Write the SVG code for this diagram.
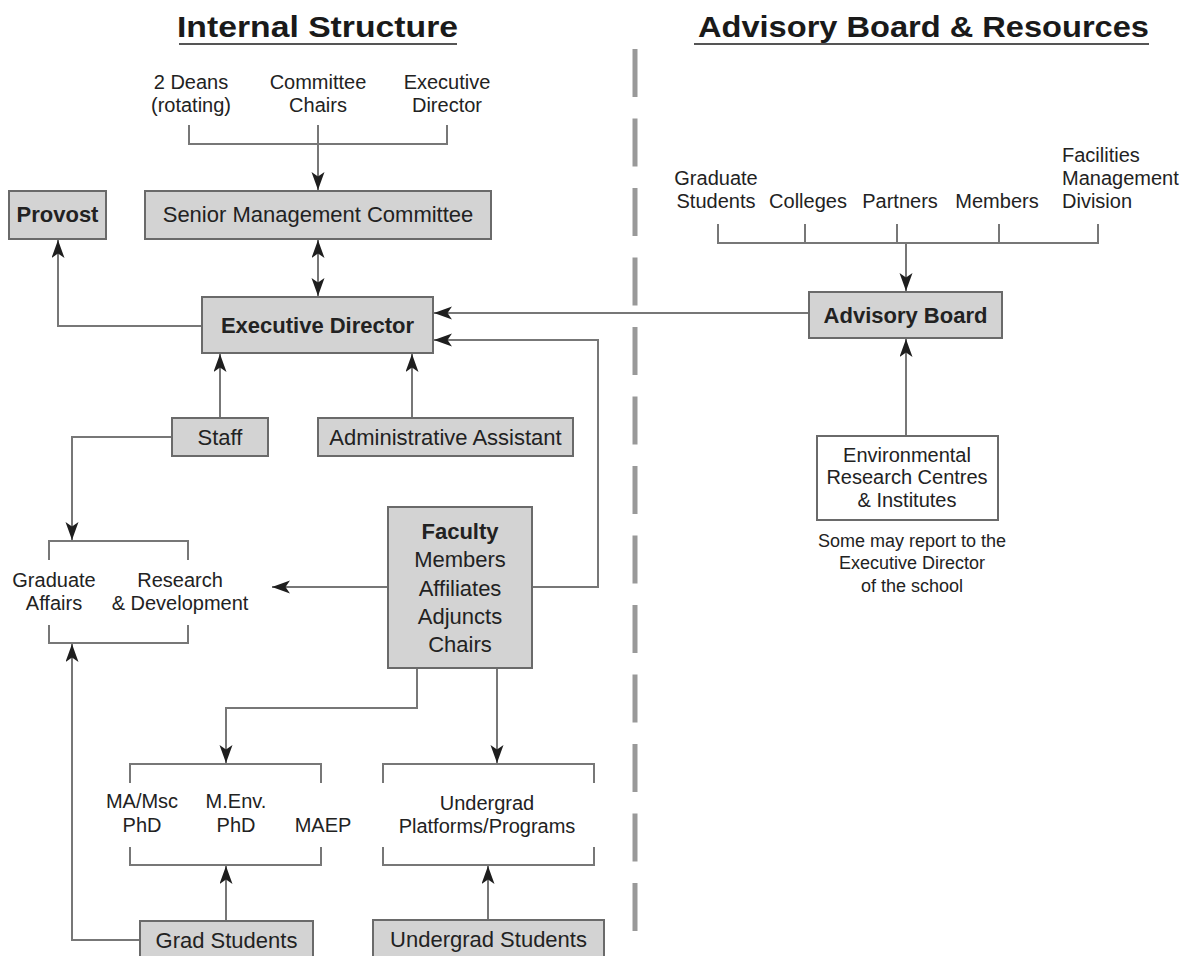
<svg xmlns="http://www.w3.org/2000/svg" width="1182" height="956" viewBox="0 0 1182 956">
<defs>
<marker id="ah" markerUnits="userSpaceOnUse" markerWidth="20" markerHeight="14" refX="18" refY="6.5" orient="auto-start-reverse">
<path d="M0,0 L18,6.5 L0,13 L4.5,6.5 Z" fill="#1e1e1e"/>
</marker>
<style>
.t{font-family:"Liberation Sans",Arial,sans-serif;fill:#222;text-anchor:middle}
.title{font-family:"Liberation Sans",Arial,sans-serif;font-weight:bold;font-size:29px;fill:#1a1a1a;text-anchor:middle}
.box{fill:#d3d3d3;stroke:#6a6a6a;stroke-width:2}
.wbox{fill:#fff;stroke:#6a6a6a;stroke-width:2}
.lbl{font-size:20px}
.bt{font-size:22px}
.b{font-weight:bold}
.note{font-size:18px}
.c{fill:none;stroke:#777;stroke-width:2}
.a{marker-end:url(#ah)}
</style>
</defs>
<rect width="1182" height="956" fill="#fff"/>

<g id="titles">
<text class="title" x="317.5" y="37" textLength="281" lengthAdjust="spacingAndGlyphs">Internal Structure</text>
<line x1="179" y1="44" x2="457" y2="44" stroke="#555" stroke-width="2"/>
<text class="title" x="923.5" y="37" textLength="451" lengthAdjust="spacingAndGlyphs">Advisory Board &amp; Resources</text>
<line x1="694" y1="44" x2="1149" y2="44" stroke="#555" stroke-width="2"/>
</g>

<g id="divider">
<line x1="635" y1="49" x2="635" y2="931" stroke="#999" stroke-width="5" stroke-dasharray="48 21.5"/>
</g>

<g id="connectors">
<path class="c" d="M189,125 V144 H447 V125"/>
<path class="c a" d="M318,125 V190"/>
<path class="c a" d="M318,240 V296" style="marker-start:url(#ah)"/>
<path class="c a" d="M202,326 H58 V240"/>
<path class="c a" d="M809,313 H434"/>
<path class="c a" d="M532,587 H598 V340 H434"/>
<path class="c a" d="M220,418 V354"/>
<path class="c a" d="M412,418 V354"/>
<path class="c a" d="M172,437 H72 V540"/>
<path class="c" d="M49,560 V541 H188 V560"/>
<path class="c a" d="M388,587 H272"/>
<path class="c" d="M49,625 V643 H188 V625"/>
<path class="c a" d="M140,940 H72 V644"/>
<path class="c a" d="M417,668 V708 H226 V763"/>
<path class="c a" d="M497,668 V763"/>
<path class="c" d="M130,783 V764 H321 V783"/>
<path class="c" d="M130,847 V865 H321 V847"/>
<path class="c" d="M383,783 V764 H594 V783"/>
<path class="c" d="M383,847 V865 H594 V847"/>
<path class="c a" d="M226,921 V866"/>
<path class="c a" d="M488,920 V866"/>
<path class="c" d="M718,224 V243 H1098 V224 M805,224 V243 M897,224 V243 M999,224 V243"/>
<path class="c a" d="M906,243 V291"/>
<path class="c a" d="M906,436 V339"/>
</g>

<g id="smc-members">
<text class="t lbl" x="191" y="89">2 Deans</text>
<text class="t lbl" x="191" y="112">(rotating)</text>
<text class="t lbl" x="318" y="89">Committee</text>
<text class="t lbl" x="318" y="112">Chairs</text>
<text class="t lbl" x="447" y="89">Executive</text>
<text class="t lbl" x="447" y="112">Director</text>
</g>

<g id="provost">
<rect class="box" x="9" y="191" width="97" height="48"/>
<text class="t bt b" x="57.5" y="222">Provost</text>
</g>

<g id="smc">
<rect class="box" x="145" y="191" width="346" height="48"/>
<text class="t bt" x="318" y="222">Senior Management Committee</text>
</g>

<g id="exec-director">
<rect class="box" x="202" y="297" width="231" height="56"/>
<text class="t bt b" x="317.5" y="333">Executive Director</text>
</g>

<g id="staff">
<rect class="box" x="172" y="418" width="96" height="38"/>
<text class="t bt" x="220" y="445">Staff</text>
</g>

<g id="admin-assistant">
<rect class="box" x="318" y="418" width="255" height="38"/>
<text class="t bt" x="445.5" y="445">Administrative Assistant</text>
</g>

<g id="faculty">
<rect class="box" x="388" y="507" width="144" height="161"/>
<text class="t bt b" x="460" y="539">Faculty</text>
<text class="t bt" x="460" y="567">Members</text>
<text class="t bt" x="460" y="596">Affiliates</text>
<text class="t bt" x="460" y="624">Adjuncts</text>
<text class="t bt" x="460" y="652">Chairs</text>
</g>

<g id="grad-affairs-rd">
<text class="t lbl" x="54" y="587">Graduate</text>
<text class="t lbl" x="54" y="610">Affairs</text>
<text class="t lbl" x="180" y="587">Research</text>
<text class="t lbl" x="180" y="610">&amp; Development</text>
</g>

<g id="grad-programs">
<text class="t lbl" x="142" y="808">MA/Msc</text>
<text class="t lbl" x="142" y="832">PhD</text>
<text class="t lbl" x="236" y="808">M.Env.</text>
<text class="t lbl" x="236" y="832">PhD</text>
<text class="t lbl" x="323" y="832">MAEP</text>
</g>

<g id="undergrad-programs">
<text class="t lbl" x="487" y="810">Undergrad</text>
<text class="t lbl" x="487" y="833">Platforms/Programs</text>
</g>

<g id="grad-students">
<rect class="box" x="140" y="921" width="173" height="50"/>
<text class="t bt" x="226.5" y="948">Grad Students</text>
</g>

<g id="undergrad-students">
<rect class="box" x="373" y="920" width="231" height="50"/>
<text class="t bt" x="488.5" y="947">Undergrad Students</text>
</g>

<g id="board-members">
<text class="t lbl" x="716" y="185">Graduate</text>
<text class="t lbl" x="716" y="208">Students</text>
<text class="t lbl" x="808" y="208">Colleges</text>
<text class="t lbl" x="900" y="208">Partners</text>
<text class="t lbl" x="997" y="208">Members</text>
<text class="t lbl" x="1062" y="162" style="text-anchor:start">Facilities</text>
<text class="t lbl" x="1062" y="185" style="text-anchor:start">Management</text>
<text class="t lbl" x="1062" y="208" style="text-anchor:start">Division</text>
</g>

<g id="advisory-board">
<rect class="box" x="809" y="292" width="193" height="46"/>
<text class="t bt b" x="905.5" y="323">Advisory Board</text>
</g>

<g id="research-centres">
<rect class="wbox" x="817" y="436" width="181" height="84"/>
<text class="t lbl" x="907" y="462">Environmental</text>
<text class="t lbl" x="907" y="484">Research Centres</text>
<text class="t lbl" x="907" y="507">&amp; Institutes</text>
</g>

<g id="note">
<text class="t note" x="912" y="547">Some may report to the</text>
<text class="t note" x="912" y="569">Executive Director</text>
<text class="t note" x="912" y="592">of the school</text>
</g>
</svg>
